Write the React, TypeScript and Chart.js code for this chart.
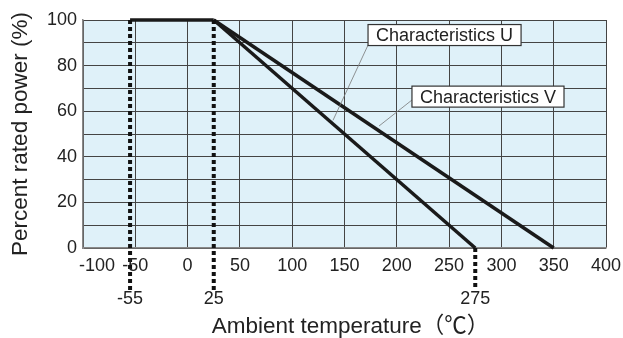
import { useEffect, useRef } from 'react';
import { Chart, registerables } from 'chart.js';

Chart.register(...registerables);

// ---- data ----
const xTickValues = [-100, -50, 0, 50, 100, 150, 200, 250, 300, 350, 400];
const yTickValues = [0, 20, 40, 60, 80, 100];
const flatTemps = [-55, 25];
const flatPower = [100, 100];
const uTemps = [25, 275];
const uPower = [100, 0];
const vTemps = [25, 350];
const vPower = [100, 0];
const markerTemps = [-55, 25, 275];
const markerFromPower = [100, 100, 0];
const markerLabels = ['-55', '25', '275'];
const seriesNames = ['Characteristics U', 'Characteristics V'];
const xTitle = 'Ambient temperature（℃）';
const yTitle = 'Percent rated power (%)';

const FONT = '"Liberation Sans", Arial, "Noto Sans CJK JP", sans-serif';
const TEXT = '#222';

// callout placement (in data coordinates)
const callouts = [
  { name: seriesNames[0], boxLeft: 172.5, boxCenter: 93.4, startT: 172.5, startP: 89.0, tipT: 139, tipP: 56 },
  { name: seriesNames[1], boxLeft: 214.5, boxCenter: 66.4, startT: 214.5, startP: 64.9, tipT: 183, tipP: 53.5 },
];

const decorPlugin = {
  id: 'decor',
  beforeDraw(chart: any) {
    const { ctx, chartArea: a } = chart;
    ctx.save();
    ctx.fillStyle = '#dff1f9';
    ctx.fillRect(a.left, a.top, a.right - a.left, a.bottom - a.top);
    ctx.restore();
  },
  afterDraw(chart: any) {
    const { ctx, chartArea: a } = chart;
    const xs = chart.scales.x;
    const ys = chart.scales.y;
    ctx.save();
    // dotted marker lines
    ctx.strokeStyle = '#111';
    ctx.lineWidth = 4;
    ctx.setLineDash([4, 3]);
    markerTemps.forEach((t, i) => {
      const x = xs.getPixelForValue(t);
      ctx.beginPath();
      ctx.moveTo(x, ys.getPixelForValue(markerFromPower[i]));
      ctx.lineTo(x, a.bottom + 42);
      ctx.stroke();
    });
    ctx.setLineDash([]);

    // x tick labels
    ctx.fillStyle = TEXT;
    ctx.font = `18px ${FONT}`;
    ctx.textBaseline = 'middle';
    xTickValues.forEach((v, i) => {
      const x = xs.getPixelForValue(v);
      if (i === 0) {
        ctx.textAlign = 'left';
        ctx.fillText(String(v), x - 4, a.bottom + 18);
      } else {
        ctx.textAlign = 'center';
        ctx.fillText(String(v), x, a.bottom + 18);
      }
    });
    // marker labels
    markerTemps.forEach((t, i) => {
      ctx.textAlign = 'center';
      ctx.fillText(markerLabels[i], xs.getPixelForValue(t), a.bottom + 51);
    });

    // axis titles
    ctx.font = `22.5px ${FONT}`;
    ctx.textAlign = 'left';
    const tw = ctx.measureText(xTitle).width;
    ctx.fillText(xTitle, (a.left + a.right) / 2 - tw / 2 + 6, a.bottom + 79);
    ctx.textAlign = 'center';
    ctx.save();
    ctx.translate(21, (a.top + a.bottom) / 2);
    ctx.rotate(-Math.PI / 2);
    ctx.fillText(yTitle, 0, 0);
    ctx.restore();

    // callouts
    ctx.font = `18px ${FONT}`;
    callouts.forEach((c) => {
      ctx.strokeStyle = '#777';
      ctx.lineWidth = 0.8;
      ctx.beginPath();
      ctx.moveTo(xs.getPixelForValue(c.startT), ys.getPixelForValue(c.startP));
      ctx.lineTo(xs.getPixelForValue(c.tipT), ys.getPixelForValue(c.tipP));
      ctx.stroke();
      const w = ctx.measureText(c.name).width + 16;
      const h = 21;
      const left = xs.getPixelForValue(c.boxLeft);
      const cy = ys.getPixelForValue(c.boxCenter);
      ctx.fillStyle = '#fff';
      ctx.fillRect(left, cy - h / 2, w, h);
      ctx.strokeStyle = '#333';
      ctx.lineWidth = 1.2;
      ctx.strokeRect(left, cy - h / 2, w, h);
      ctx.fillStyle = TEXT;
      ctx.textAlign = 'left';
      ctx.fillText(c.name, left + 8, cy + 1);
    });
    ctx.restore();
  },
};

export default function App() {
  const ref = useRef<HTMLCanvasElement>(null);
  useEffect(() => {
    if (!ref.current) return;
    const toPts = (xs: number[], ys: number[]) => xs.map((x, i) => ({ x, y: ys[i] }));
    const lineStyle = {
      borderColor: '#1a1a1a',
      borderWidth: 3.5,
      pointRadius: 0,
      fill: false,
      tension: 0,
      clip: false as any,
    };
    const chart = new Chart(ref.current, {
      type: 'line',
      data: {
        datasets: [
          { label: 'flat', data: toPts(flatTemps, flatPower), ...lineStyle },
          { label: seriesNames[0], data: toPts(uTemps, uPower), ...lineStyle },
          { label: seriesNames[1], data: toPts(vTemps, vPower), ...lineStyle },
        ],
      },
      options: {
        animation: false,
        responsive: true,
        maintainAspectRatio: false,
        layout: { padding: { top: 20, right: 17, left: 0, bottom: 0 } },
        plugins: { legend: { display: false }, tooltip: { enabled: false } },
        scales: {
          x: {
            type: 'linear',
            min: xTickValues[0],
            max: xTickValues[xTickValues.length - 1],
            ticks: { stepSize: 50, display: false, autoSkip: false },
            grid: { color: '#444', lineWidth: 1, drawTicks: false },
            border: { color: '#888', width: 1.5 },
            afterFit: (s: any) => { s.height = 90; },
          },
          y: {
            type: 'linear',
            min: yTickValues[0],
            max: yTickValues[yTickValues.length - 1],
            ticks: {
              stepSize: 10,
              autoSkip: false,
              padding: 6,
              color: TEXT,
              font: { size: 18, family: FONT },
              callback: (v: any) => (yTickValues.includes(v) ? String(v) : ''),
            },
            grid: { color: '#444', lineWidth: 1, drawTicks: false },
            border: { color: '#888', width: 1.5 },
            afterFit: (s: any) => { s.width = 83; },
          },
        },
      },
      plugins: [decorPlugin],
    });
    return () => chart.destroy();
  }, []);
  return (
    <div style={{ position: 'fixed', left: 0, top: 0, width: 623, height: 338, background: '#fff' }}>
      <canvas ref={ref} />
    </div>
  );
}
